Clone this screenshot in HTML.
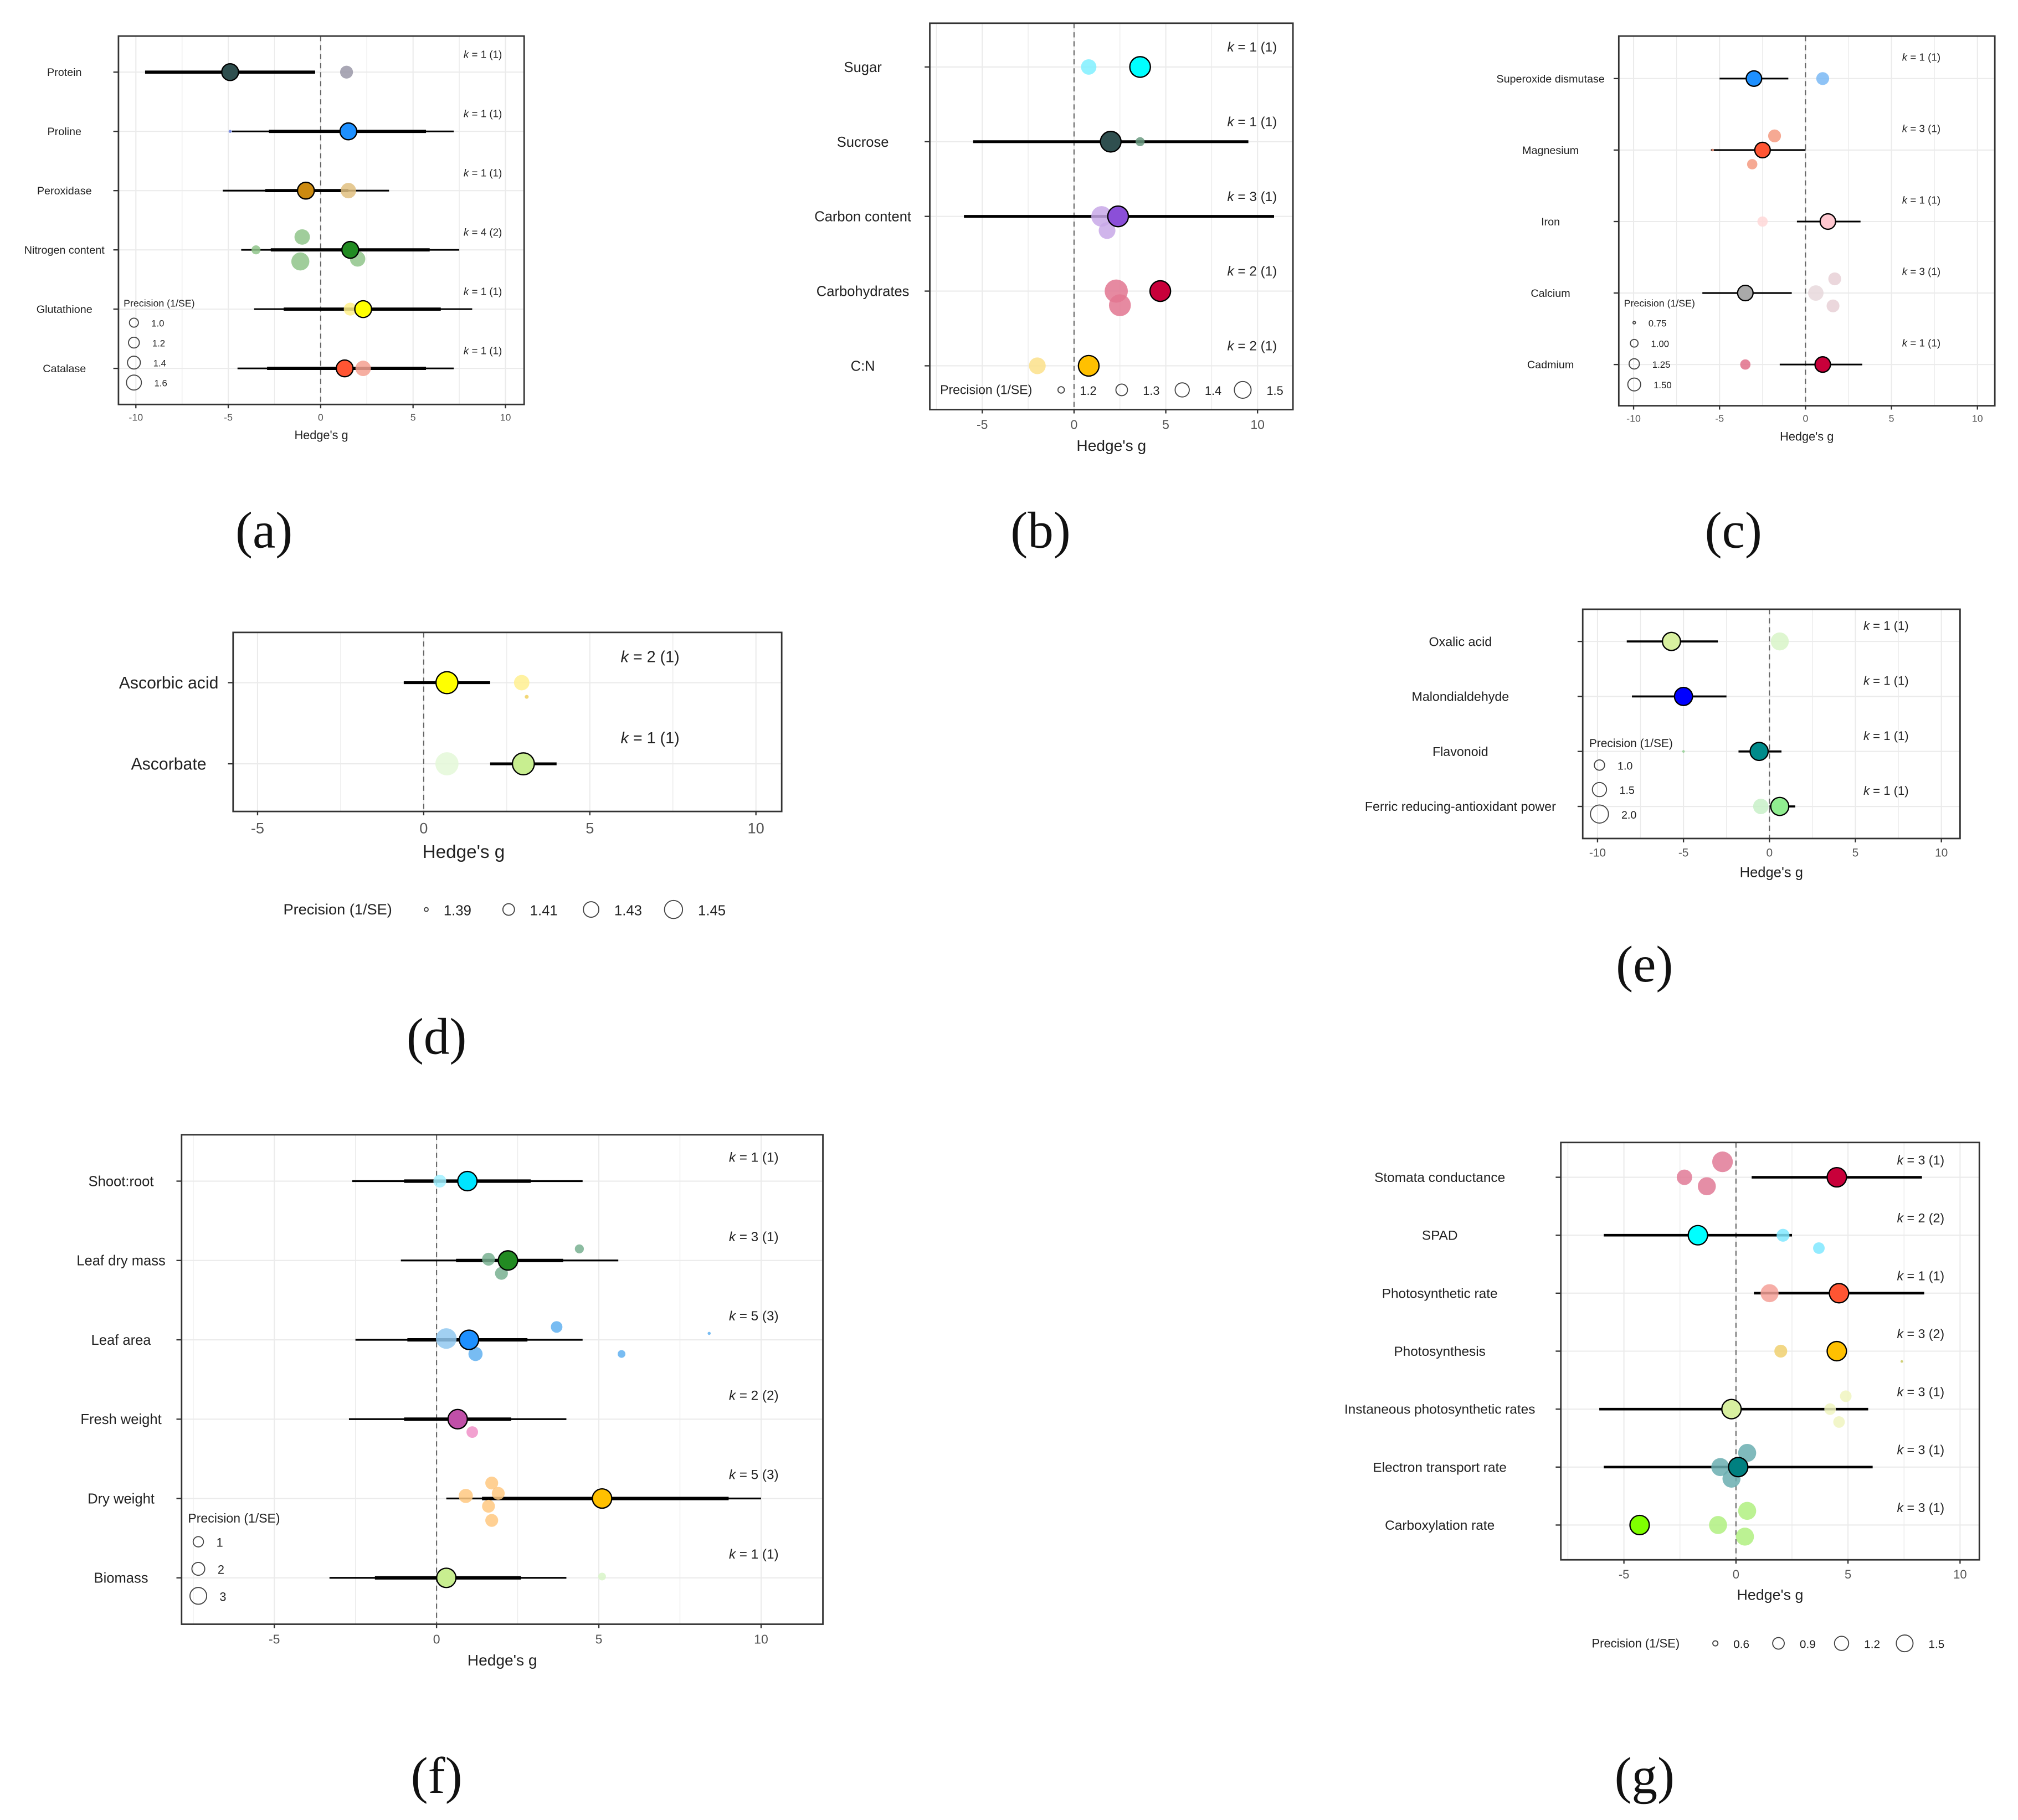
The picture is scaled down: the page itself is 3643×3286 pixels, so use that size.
<!DOCTYPE html>
<html><head><meta charset="utf-8"><style>
html,body{margin:0;padding:0;background:#fff;}
svg{display:block;font-family:"Liberation Sans",sans-serif;}
</style></head><body>
<svg id="fig" width="3643" height="3286" viewBox="0 0 1567 1413" preserveAspectRatio="none" xmlns="http://www.w3.org/2000/svg"></svg>
<script>
// ---------- Panel (a) data ----------
const aCats=["Protein","Proline","Peroxidase","Nitrogen content","Glutathione","Catalase"];
const aMean=[-4.9,1.5,-0.8,1.6,2.3,1.3];
const aLo=[-9.5,-4.8,-5.3,-4.3,-3.6,-4.5];
const aHi=[-0.3,7.2,3.7,7.5,8.2,7.2];
const aTLo=[-9.5,-2.8,-3,-2.7,-2,-2.9];
const aTHi=[-0.3,5.7,1.5,5.9,6.5,5.7];
const aK=["1 (1)","1 (1)","1 (1)","4 (2)","1 (1)","1 (1)"];
const aCol=["#2F4F4F","#1E90FF","#CC8A10","#228B22","#FFFF00","#FF5533"];
const aSCat=[0,1,2,3,3,3,3,4,5];
const aSVal=[1.4,-4.9,1.5,-1,-3.5,-1.1,2,1.6,2.3];
const aSOff=[0,0,0,-10,0,9,7,0,0];
const aSR=[5,1.2,6,6,3.5,7,6,5,6];
const aSCol=["#9a98a8","#6a7fe0","#e0c080","#8fc489","#8fc489","#8fc489","#8fc489","#fff08a","#f5a090"];
// ---------- Panel (b) data ----------
const bCats=["Sugar","Sucrose","Carbon content","Carbohydrates","C:N"];
const bMean=[3.6,2,2.4,4.7,0.8];
const bLo=[null,-5.5,-6,null,null];
const bHi=[null,9.5,10.9,null,null];
const bK=["1 (1)","1 (1)","3 (1)","2 (1)","2 (1)"];
const bCol=["#00FFFF","#2F4F4F","#8B4FD8","#C8003A","#FFC000"];
const bSCat=[0,1,2,2,3,3,4];
const bSVal=[0.8,3.6,1.5,1.8,2.3,2.5,-2];
const bSOff=[0,0,0,11,0,11,0];
const bSR=[6,3.5,8,6.5,9,8.5,6.5];
const bSCol=["#80f0ff","#6a9a80","#c8a8e8","#c8a8e8","#e27690","#e27690","#fbe08a"];
// ---------- Panel (c) data ----------
const cCats=["Superoxide dismutase","Magnesium","Iron","Calcium","Cadmium"];
const cMean=[-3,-2.5,1.3,-3.5,1];
const cLo=[-5,-5.5,-0.5,-6,-1.5];
const cHi=[-1,0,3.2,-0.8,3.3];
const cK=["1 (1)","3 (1)","1 (1)","3 (1)","1 (1)"];
const cCol=["#1E90FF","#FF5533","#FFC8D0","#A9A9A9","#C8003A"];
const cSCat=[0,1,1,1,2,3,3,3,4];
const cSVal=[1,-1.8,-3.1,-5.4,-2.5,0.6,1.7,1.6,-3.5];
const cSOff=[0,-11,11,0,0,0,-11,10,0];
const cSR=[5,5,4,1,4,6,5,5,4];
const cSCol=["#7ab8f5","#f59a80","#f59a80","#f59a80","#ffd8d8","#e8d8dc","#e8d0d6","#e8d0d6","#e0708a"];
// ---------- Panel (d) data ----------
const dCats=["Ascorbic acid","Ascorbate"];
const dMean=[0.7,3];
const dLo=[-0.6,2];
const dHi=[2.0,4];
const dK=["2 (1)","1 (1)"];
const dCol=["#FFFF00","#C8EE90"];
const dSCat=[0,0,1];
const dSVal=[2.95,3.1,0.7];
const dSOff=[0,11,0];
const dSR=[6,1.5,9];
const dSCol=["#fff090","#f0d060","#e4f8d8"];
// ---------- Panel (e) data ----------
const eCats=["Oxalic acid","Malondialdehyde","Flavonoid","Ferric reducing-antioxidant power"];
const eMean=[-5.7,-5,-0.6,0.6];
const eLo=[-8.3,-8,-1.8,0];
const eHi=[-3,-2.5,0.7,1.5];
const eK=["1 (1)","1 (1)","1 (1)","1 (1)"];
const eCol=["#D8F0A0","#0000FF","#008B8B","#90EE90"];
const eSCat=[0,2,3];
const eSVal=[0.6,-5,-0.5];
const eSOff=[0,0,0];
const eSR=[7,1,6];
const eSCol=["#d8f5c8","#90d090","#c8f0c8"];
// ---------- Panel (f) data ----------
const fCats=["Shoot:root","Leaf dry mass","Leaf area","Fresh weight","Dry weight","Biomass"];
const fMean=[0.95,2.2,1,0.65,5.1,0.3];
const fLo=[-2.6,-1.1,-2.5,-2.7,0.3,-3.3];
const fHi=[4.5,5.6,4.5,4,10,4];
const fTLo=[-1,0.6,-0.9,-1,1.4,-1.9];
const fTHi=[2.9,3.9,2.8,2.3,9,2.6];
const fK=["1 (1)","3 (1)","5 (3)","2 (2)","5 (3)","1 (1)"];
const fCol=["#00E5FF","#228B22","#1E90FF","#C04FA8","#FFC000","#C8EE90"];
const fSCat=[0,1,1,1,2,2,2,2,2,3,4,4,4,4,4,5];
const fSVal=[0.1,1.6,2,4.4,0.3,1.2,3.7,5.7,8.4,1.1,1.7,1.9,1.6,1.7,0.9,5.1];
const fSOff=[0,-1,10,-9,-1,11,-10,11,-5,10,-12,-4,6,17,-2,-1];
const fSR=[5,5,5,3.5,8,5.5,4.5,3,1.2,4.5,5,5,5,5,5.5,3];
const fSCol=["#a0f0ff","#78b090","#78b090","#78b090","#90c8f0","#60b0f0","#60b0f0","#60b0f0","#60b0f0","#f090c8","#ffc880","#ffc880","#ffc880","#ffc880","#ffc880","#d8f5c8"];
// ---------- Panel (g) data ----------
const gCats=["Stomata conductance","SPAD","Photosynthetic rate","Photosynthesis","Instaneous photosynthetic rates","Electron transport rate","Carboxylation rate"];
const gMean=[4.5,-1.7,4.6,4.5,-0.2,0.1,-4.3];
const gLo=[0.7,-5.9,0.8,null,-6.1,-5.9,null];
const gHi=[8.3,2.5,8.4,null,5.9,6.1,null];
const gK=["3 (1)","2 (2)","1 (1)","3 (2)","3 (1)","3 (1)","3 (1)"];
const gCol=["#C8003A","#00FFFF","#FF5533","#FFC000","#D8F0A0","#008080","#7FFF00"];
const gSCat=[0,0,0,1,1,2,3,3,4,4,4,5,5,5,6,6,6];
const gSVal=[-0.6,-2.3,-1.3,2.1,3.7,1.5,2,7.4,4.9,4.2,4.6,0.5,-0.7,-0.2,0.5,-0.8,0.4];
const gSOff=[-12,0,7,0,10,0,0,8,-10,0,10,-11,0,9,-11,0,9];
const gSR=[8,6,7,5,4.5,7,5,1,4.5,4.5,4.5,7,7,7,7,7,7];
const gSCol=["#e07a96","#e07a96","#e07a96","#80e8ff","#80e8ff","#f4a098","#f0d070","#c8c860","#f0f5c0","#f0f5c0","#f0f5c0","#6aaeb0","#6aaeb0","#6aaeb0","#b0f080","#b0f080","#b0f080"];

const NS="http://www.w3.org/2000/svg";
const svg=document.getElementById('fig');
function mk(tag,attrs,parent){const e=document.createElementNS(NS,tag);for(const k in attrs)e.setAttribute(k,attrs[k]);(parent||svg).appendChild(e);return e;}
function txt(x,y,s,size,anchor,parent,extra){const t=mk('text',Object.assign({x:x,y:y,'font-size':size,'text-anchor':anchor||'start',fill:'#222'},extra||{}),parent);t.textContent=s;return t;}

function panel(L,D){
  const g=mk('g',{});
  
  
  const X=v=>L.zero+v*L.scale, Y=i=>L.cy0+i*L.step;
  for(let v=L.gmin;v<=L.gmax;v+=2.5){const x=X(v);if(x<L.x0||x>L.x1)continue;
    const gl=mk('line',{x1:x,x2:x,y1:L.y0,y2:L.y1,stroke:'#ebebeb','stroke-width':(v%5===0?0.9:0.6)},g);
    }
  D.cats.forEach((c,i)=>{const hl=mk('line',{x1:L.x0,x2:L.x1,y1:Y(i),y2:Y(i),stroke:'#ebebeb','stroke-width':0.9},g);
    });
  const zl=mk('line',{x1:X(0),x2:X(0),y1:L.y0,y2:L.y1,stroke:'#666','stroke-width':0.9,'stroke-dasharray':'4,3'},g);
  
  D.cats.forEach((c,i)=>{
    if(D.lo[i]!=null){const l=mk('line',{x1:X(D.lo[i]),x2:X(D.hi[i]),y1:Y(i),y2:Y(i),stroke:'#000','stroke-width':L.ciw},g);
      }
    if(D.tlo&&D.tlo[i]!=null){const l=mk('line',{x1:X(D.tlo[i]),x2:X(D.thi[i]),y1:Y(i),y2:Y(i),stroke:'#000','stroke-width':L.ciw*1.9},g);
      }
  });
  D.sval.forEach((v,j)=>{const p=mk('circle',{cx:X(v),cy:Y(D.scat[j])+D.soff[j]*L.offs,r:D.sr[j]*L.rs,fill:D.scol[j],'fill-opacity':0.85},g);
    });
  D.cats.forEach((c,i)=>{const p=mk('circle',{cx:X(D.mean[i]),cy:Y(i),r:L.mr,fill:D.col[i],stroke:'#000','stroke-width':1},g);
    });
  const fr=mk('rect',{x:L.x0,y:L.y0,width:L.x1-L.x0,height:L.y1-L.y0,fill:'none',stroke:'#333','stroke-width':1.2},g);
  
  D.cats.forEach((c,i)=>{mk('line',{x1:L.x0-4,x2:L.x0,y1:Y(i),y2:Y(i),stroke:'#333','stroke-width':1},g);
    const t=txt(L.labx,Y(i)+L.fs*0.35,c,L.fs,'middle',g);
    
    const k=txt(L.kx,Y(i)+L.kdy,'',L.fs*0.95,'start',g);
    
    const ks=document.createElementNS(NS,'tspan');ks.setAttribute('font-style','italic');ks.textContent='k';k.appendChild(ks);
    k.appendChild(document.createTextNode(' = '+D.k[i]));});
  L.ticks.forEach(v=>{const x=X(v);mk('line',{x1:x,x2:x,y1:L.y1,y2:L.y1+3,stroke:'#333','stroke-width':1},g);
    const t=txt(x,L.y1+L.fs+4,String(v),L.fs*0.9,'middle',g,{fill:'#555'});
    });
  const at=txt((L.x0+L.x1)/2+L.tdx,L.y1+L.fs*2+10,"Hedge's g",L.fs*1.1,'middle',g);
  
  const lg=mk('g',{},g);
  txt(L.lx,L.ly,'Precision (1/SE)',L.fs*0.9,'start',lg);
  L.leg.forEach((s,i)=>{let cx,cy;
    if(L.horiz){cx=L.lcx+i*L.lstep;cy=L.ly-L.fs*0.3;}else{cx=L.lx+8;cy=L.ly+L.fs+4+i*L.lstep;}
    mk('circle',{cx:cx,cy:cy,r:L.lr[i],fill:'none',stroke:'#444','stroke-width':0.8},lg);
    txt(cx+L.lr[i]+ (L.horiz?12:10),cy+L.fs*0.35,s,L.fs*0.85,'start',lg);});
}

panel({name:'panel-a',x0:92,y0:28,x1:407,y1:314,zero:249,scale:14.35,gmin:-10,gmax:10,ticks:[-10,-5,0,5,10],cy0:56,step:46,ciw:1.3,mr:6.5,rs:1,offs:1,fs:8.5,labx:50,kx:360,kdy:-11,tdx:0,
  lx:96,ly:238,leg:['1.0','1.2','1.4','1.6'],lr:[3.5,4.2,5,5.8],lstep:15.5,horiz:false},
  {cats:aCats,mean:aMean,lo:aLo,hi:aHi,tlo:aTLo,thi:aTHi,k:aK,col:aCol,scat:aSCat,sval:aSVal,soff:aSOff,sr:aSR,scol:aSCol});
panel({name:'panel-b',x0:722,y0:18,x1:1004,y1:318,zero:834,scale:14.25,gmin:-7.5,gmax:12.5,ticks:[-5,0,5,10],cy0:52,step:58,ciw:2.2,mr:8,rs:1,offs:1,fs:11,labx:670,kx:953,kdy:-12,tdx:0,
  lx:730,ly:306,leg:['1.2','1.3','1.4','1.5'],lr:[2.5,4.5,5.5,6.5],lstep:47,lcx:824,horiz:true},
  {cats:bCats,mean:bMean,lo:bLo,hi:bHi,k:bK,col:bCol,scat:bSCat,sval:bSVal,soff:bSOff,sr:bSR,scol:bSCol});
panel({name:'panel-c',x0:1257,y0:28,x1:1549,y1:315,zero:1402,scale:13.35,gmin:-10,gmax:10,ticks:[-10,-5,0,5,10],cy0:61,step:55.5,ciw:1.3,mr:6,rs:1,offs:1,fs:8.5,labx:1204,kx:1477,kdy:-14,tdx:0,
  lx:1261,ly:238,leg:['0.75','1.00','1.25','1.50'],lr:[1,3,4,5],lstep:16,horiz:false},
  {cats:cCats,mean:cMean,lo:cLo,hi:cHi,k:cK,col:cCol,scat:cSCat,sval:cSVal,soff:cSOff,sr:cSR,scol:cSCol});
panel({name:'panel-d',x0:181,y0:491,x1:607,y1:630,zero:329,scale:25.8,gmin:-7.5,gmax:12.5,ticks:[-5,0,5,10],cy0:530,step:63,ciw:2.2,mr:8.5,rs:1,offs:1,fs:13,labx:131,kx:482,kdy:-16,tdx:-34,
  lx:220,ly:710,leg:['1.39','1.41','1.43','1.45'],lr:[1.5,4.5,6,7],lstep:64,lcx:331,horiz:true},
  {cats:dCats,mean:dMean,lo:dLo,hi:dHi,k:dK,col:dCol,scat:dSCat,sval:dSVal,soff:dSOff,sr:dSR,scol:dSCol});
panel({name:'panel-e',x0:1229,y0:473,x1:1522,y1:651,zero:1374,scale:13.35,gmin:-10,gmax:10,ticks:[-10,-5,0,5,10],cy0:498,step:42.7,ciw:1.6,mr:7,rs:1,offs:1,fs:10,labx:1134,kx:1447,kdy:-9,tdx:0,
  lx:1234,ly:580,leg:['1.0','1.5','2.0'],lr:[4,5.5,7],lstep:19,horiz:false},
  {cats:eCats,mean:eMean,lo:eLo,hi:eHi,k:eK,col:eCol,scat:eSCat,sval:eSVal,soff:eSOff,sr:eSR,scol:eSCol});
panel({name:'panel-f',x0:141,y0:881,x1:639,y1:1261,zero:339,scale:25.2,gmin:-7.5,gmax:12.5,ticks:[-5,0,5,10],cy0:917,step:61.6,ciw:1.4,mr:7.5,rs:1,offs:1,fs:11,labx:94,kx:566,kdy:-15,tdx:0,
  lx:146,ly:1182,leg:['1','2','3'],lr:[4,5,6.5],lstep:21,horiz:false},
  {cats:fCats,mean:fMean,lo:fLo,hi:fHi,tlo:fTLo,thi:fTHi,k:fK,col:fCol,scat:fSCat,sval:fSVal,soff:fSOff,sr:fSR,scol:fSCol});
panel({name:'panel-g',x0:1212,y0:887,x1:1537,y1:1211,zero:1348,scale:17.4,gmin:-7.5,gmax:12.5,ticks:[-5,0,5,10],cy0:914,step:45,ciw:2,mr:7.5,rs:1,offs:1,fs:10.5,labx:1118,kx:1473,kdy:-10,tdx:0,
  lx:1236,ly:1279,leg:['0.6','0.9','1.2','1.5'],lr:[2,4.5,5.5,6.5],lstep:49,lcx:1332,horiz:true},
  {cats:gCats,mean:gMean,lo:gLo,hi:gHi,k:gK,col:gCol,scat:gSCat,sval:gSVal,soff:gSOff,sr:gSR,scol:gSCol});

[["(a)",205,425],["(b)",808,425],["(c)",1346,425],["(d)",339,818],["(e)",1277,762],["(f)",339,1392],["(g)",1277,1392]].forEach(p=>{
  const t=mk('text',{x:p[1],y:p[2],'font-size':40,'text-anchor':'middle','font-family':'"Liberation Serif",serif',fill:'#111'});
  t.textContent=p[0];
  
  
});
</script>
</body></html>
